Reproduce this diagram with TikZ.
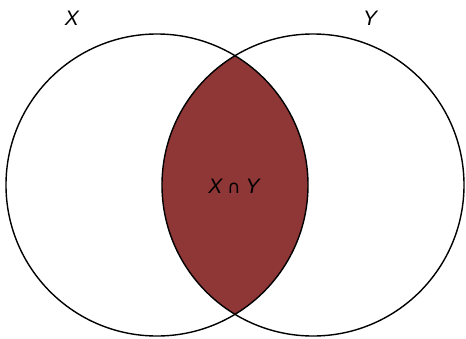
\documentclass[tikz,border=0pt]{standalone}
\usepackage{fontspec}
\setmainfont{Liberation Sans}
\newfontfamily\symfont{DejaVu Sans}
\definecolor{vlens}{RGB}{143,54,54}
\tikzset{
  vset/.style={draw=black,line width=1.4pt},
  vlab/.style={font=\fontsize{21}{24}\selectfont\itshape,inner sep=0pt},
}
\begin{document}
\begin{tikzpicture}[x=1pt,y=-1pt]
\useasboundingbox (0,0) rectangle (466,338);
% ---- the two sets
\coordinate (cx) at (157,185);
\coordinate (cy) at (313,185);
% ---- the intersection, filled first
\begin{scope}
  \clip (cx) circle (151);
  \fill[vlens] (cy) circle (151);
\end{scope}
\draw[vset] (cx) circle (151);
\draw[vset] (cy) circle (151);
% ---- labels
\node[vlab] (lx) at (72,18) {X};
\node[vlab] (ly) at (370,18) {Y};
\node[vlab] (lxy) at (234,186) {X\hspace{5pt}{\upshape\symfont\fontsize{18}{24}\selectfont ∩}\hspace{5pt}Y};
\end{tikzpicture}
\end{document}
